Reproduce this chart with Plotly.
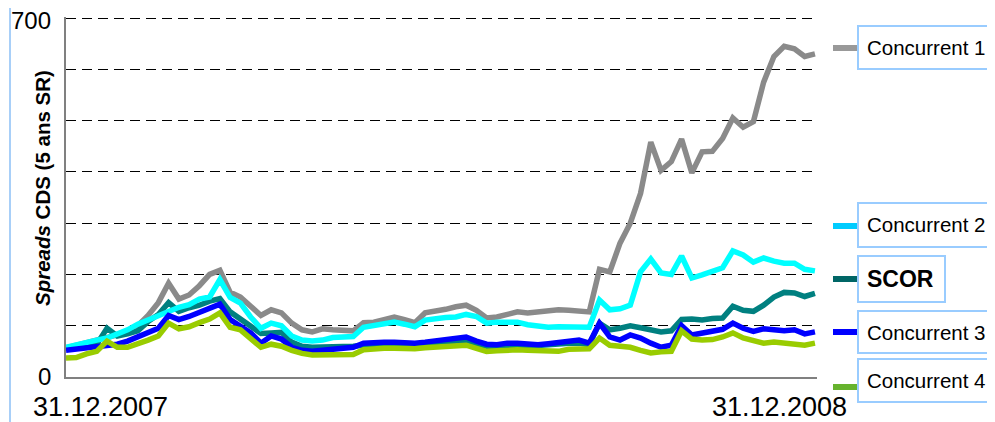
import plotly.graph_objects as go
import pandas as pd

# ---- data (CDS spreads, 5y senior, bp) ----
dates = pd.date_range("2007-12-31", periods=74, freq="5D")

concurrent_1 = [57, 62, 67, 70, 75, 82, 90, 100, 120, 145, 183, 152, 160, 178, 200, 208, 165, 156, 138, 120,
                131, 125, 105, 92, 88, 94, 92, 90, 90, 106, 107, 112, 117, 112, 106, 125, 128, 132, 137, 140,
                130, 115, 117, 122, 127, 125, 127, 128, 131, 130, 128, 127, 210, 205, 261, 300, 358, 458, 403, 420,
                464, 398, 439, 440, 465, 505, 487, 498, 575, 625, 645, 640, 625, 630]

concurrent_2 = [58, 63, 69, 72, 76, 84, 92, 103, 111, 118, 128, 136, 141, 152, 156, 190, 155, 144, 117, 95,
                105, 100, 80, 72, 70, 72, 77, 78, 79, 97, 101, 104, 107, 103, 98, 111, 114, 116, 117, 122,
                118, 105, 107, 107, 107, 102, 100, 97, 98, 97, 97, 97, 150, 131, 133, 140, 205, 230, 203, 200,
                236, 193, 199, 205, 213, 246, 238, 224, 232, 226, 222, 222, 210, 207]

scor = [56, 58, 60, 64, 95, 80, 84, 90, 108, 122, 145, 128, 135, 140, 148, 153, 127, 112, 97, 85,
        86, 87, 68, 60, 58, 58, 58, 58, 60, 62, 62, 64, 64, 63, 63, 64, 66, 68, 70, 72,
        65, 60, 59, 61, 61, 60, 62, 62, 64, 66, 66, 63, 105, 92, 95, 100, 96, 92, 88, 90,
        112, 113, 111, 114, 115, 138, 130, 128, 140, 156, 165, 164, 157, 163]

concurrent_3 = [52, 54, 56, 58, 62, 64, 70, 78, 88, 95, 120, 112, 118, 126, 132, 142, 112, 100, 86, 66,
                80, 74, 58, 52, 50, 52, 54, 56, 58, 66, 68, 68, 68, 66, 66, 68, 71, 73, 76, 78,
                70, 64, 63, 66, 66, 65, 63, 65, 68, 70, 72, 66, 105, 78, 72, 82, 76, 66, 58, 62,
                100, 82, 85, 88, 93, 105, 95, 89, 94, 92, 90, 92, 84, 88]

concurrent_4 = [37, 38, 45, 50, 70, 58, 58, 64, 72, 80, 105, 94, 98, 106, 113, 125, 97, 92, 76, 58,
                64, 60, 52, 46, 43, 43, 43, 43, 44, 53, 55, 56, 56, 55, 55, 57, 58, 58, 60, 62,
                56, 50, 51, 53, 53, 52, 52, 52, 50, 54, 55, 55, 76, 62, 60, 58, 52, 47, 49, 50,
                90, 74, 72, 73, 78, 86, 76, 70, 66, 68, 66, 65, 62, 66]

series_names = ["Concurrent 1", "Concurrent 2", "SCOR", "Concurrent 3", "Concurrent 4"]
series_values = [concurrent_1, concurrent_2, scor, concurrent_3, concurrent_4]
line_colors = ["#8a8a8a", "#00ffff", "#008080", "#0000ff", "#99cc00"]
legend_colors = ["#999999", "#00ccff", "#006666", "#0000ff", "#66b32e"]

y_ticks = [0, 100, 200, 300, 400, 500, 600, 700]
y_ticktext = ["0", "", "", "", "", "", "", ""]
y_top_label = "700"
x_labels = ["31.12.2007", "31.12.2008"]

FONT = "Liberation Sans, Arial, sans-serif"

# ---- geometry (screen pixels; page body adds an 8px offset) ----
W, H = 995, 422
OFF = 8
L, R, T, B = 66, 817, 17, 377


def pxx(x):
    return (x - L) / (R - L)


def pxy(y):
    return (B - y) / (B - T)


fig = go.Figure()
draw_order = [0, 2, 1, 3, 4]
for i in draw_order:
    fig.add_trace(go.Scatter(
        x=dates, y=series_values[i], mode="lines", name=series_names[i],
        line=dict(color=line_colors[i], width=5.5), showlegend=False,
        hoverinfo="x+y+name"))

fig.update_layout(
    width=W - OFF, height=H - OFF, autosize=False,
    margin=dict(l=L - OFF, r=W - R, t=T - OFF, b=H - B, pad=0),
    paper_bgcolor="white", plot_bgcolor="white",
    font=dict(family=FONT, color="black"),
    xaxis=dict(range=["2007-12-31", "2008-12-31"], showline=True, linecolor="#808080", linewidth=1.5,
               showgrid=False, zeroline=False, showticklabels=False, ticks="", automargin=False),
    yaxis=dict(range=[0, 702], tickvals=y_ticks, ticktext=y_ticktext, showline=True,
               linecolor="#808080", linewidth=1.5, showgrid=True, gridcolor="#000000", gridwidth=1,
               griddash="10px,6px", zeroline=False, ticks="", ticklabelstandoff=8, automargin=False,
               tickfont=dict(size=24, family=FONT, color="black")),
)

annotations = []
# top y label (kept inside the page)
annotations.append(dict(text=y_top_label, xref="paper", yref="paper", x=pxx(53), y=pxy(21),
                        xanchor="right", yanchor="middle", showarrow=False,
                        font=dict(size=24, family=FONT, color="black")))
# y title
annotations.append(dict(text="<b><i>Spreads</i> CDS (5 ans SR)</b>", textangle=-90,
                        xref="paper", yref="paper", x=pxx(42), y=pxy(188),
                        xanchor="center", yanchor="middle", showarrow=False,
                        font=dict(size=20.5, family=FONT, color="black")))
# x labels
annotations.append(dict(text=x_labels[0], xref="paper", yref="paper", x=pxx(100), y=pxy(407),
                        xanchor="center", yanchor="middle", showarrow=False,
                        font=dict(size=27, family=FONT, color="black")))
annotations.append(dict(text=x_labels[1], xref="paper", yref="paper", x=pxx(779), y=pxy(407),
                        xanchor="center", yanchor="middle", showarrow=False,
                        font=dict(size=27, family=FONT, color="black")))

shapes = []
# slide border line at left
shapes.append(dict(type="line", xref="paper", yref="paper", x0=pxx(10), x1=pxx(10),
                   y0=pxy(-5), y1=pxy(430), line=dict(color="#a8cff8", width=2)))

# legend boxes: (box top, box bottom, box right, segment y)
legend_geo = [(26, 69, 1000, 48), (203, 247, 1000, 226), (256, 302, 945, 279),
              (311, 353, 1000, 332), (359, 402, 1000, 387)]
for name, col, (top, bot, right, seg_y) in zip(series_names, legend_colors, legend_geo):
    shapes.append(dict(type="rect", xref="paper", yref="paper", x0=pxx(858), x1=pxx(right),
                       y0=pxy(bot), y1=pxy(top), line=dict(color="#99ccff", width=2),
                       fillcolor="white", layer="above"))
    shapes.append(dict(type="line", xref="paper", yref="paper", x0=pxx(833), x1=pxx(857),
                       y0=pxy(seg_y), y1=pxy(seg_y), line=dict(color=col, width=6)))
    txt = f"<b>{name}</b>" if name == "SCOR" else name
    annotations.append(dict(text=txt, xref="paper", yref="paper", x=pxx(865), y=pxy((top + bot) / 2),
                            xanchor="left", yanchor="middle", showarrow=False,
                            font=dict(size=23 if name == "SCOR" else 20.5, family=FONT, color="black")))

fig.update_layout(shapes=shapes, annotations=annotations)
fig.write_html("out.html")
